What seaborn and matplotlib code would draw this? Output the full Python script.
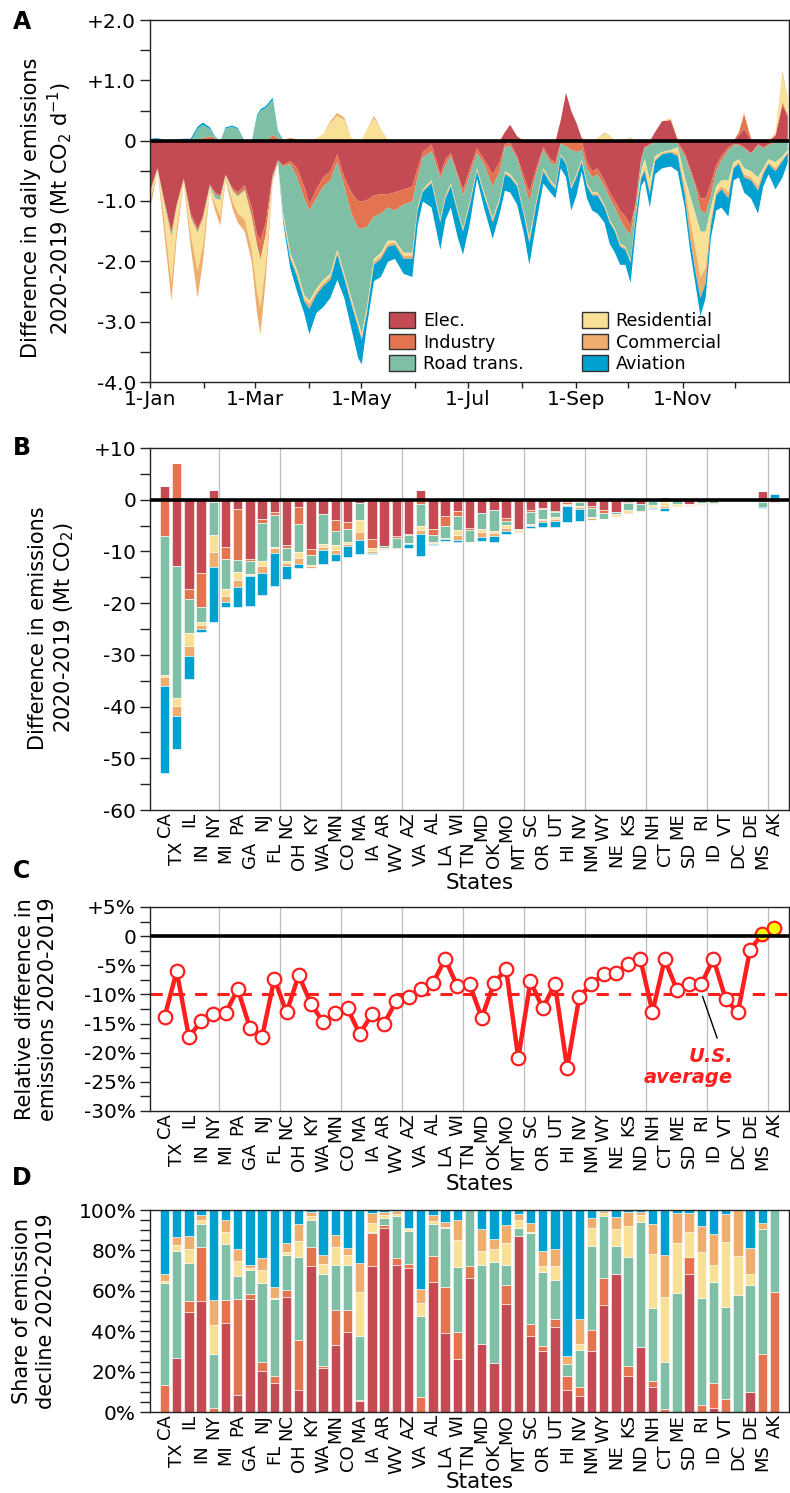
import numpy as np
import matplotlib
matplotlib.use("Agg")
import matplotlib.pyplot as plt
import seaborn as sns
from matplotlib.patches import Patch
from matplotlib.ticker import MultipleLocator

sns.set_theme(style="white")
plt.rcParams['font.family'] = ['DejaVu Sans']
plt.rcParams['mathtext.fontset'] = 'dejavusans'
for k in ('text.color', 'axes.labelcolor', 'xtick.color', 'ytick.color'):
    plt.rcParams[k] = 'black'

# ---------------- data ----------------
sectors = ["Elec.", "Industry", "Road trans.", "Residential", "Commercial", "Aviation"]
colors = ["#C44A54", "#E47450", "#7EBFA6", "#F8E096", "#F0AE6E", "#00A0D0"]

day_grid = [0, 4, 8, 12, 15, 19, 23, 27, 30, 34,
            37, 40, 43, 47, 50, 54, 58, 61, 63, 66,
            70, 73, 76, 80, 84, 88, 91, 95, 99, 103,
            107, 111, 115, 119, 121, 124, 128, 132, 136, 140,
            145, 150, 153, 156, 161, 166, 169, 172, 176, 179,
            183, 187, 191, 196, 200, 203, 206, 210, 214, 217,
            221, 225, 229, 232, 235, 238, 241, 244, 247, 250,
            253, 256, 260, 263, 266, 269, 272, 275, 278, 281,
            283, 286, 289, 293, 298, 302, 306, 309, 312, 315,
            318, 321, 324, 327, 331, 334, 337, 340, 344, 348,
            351, 354, 358, 362, 365]

elec_neg = [-0.80, -0.45, -1.00, -1.50, -1.05, -0.62, -1.20, -1.45, -1.25, -0.72,
            -0.85, -0.90, -0.55, -0.78, -0.85, -0.73, -1.10, -1.55, -1.65, -1.35,
            -0.55, -0.32, -0.40, -0.33, -0.45, -0.75, -1.05, -0.80, -0.60, -0.50,
            -0.22, -0.60, -0.85, -1.00, -1.00, -0.98, -0.90, -0.88, -0.88, -0.85,
            -0.80, -0.75, -0.45, -0.18, -0.06, -0.55, -0.30, -0.20, -0.55, -0.80,
            -0.45, -0.12, -0.30, -0.55, -0.35, -0.05, -0.03, -0.25, -0.60, -0.85,
            -0.45, -0.10, -0.30, -0.35, -0.02, 0.00, 0.00, 0.00, 0.00, -0.35,
            -0.50, -0.45, -0.65, -0.85, -1.00, -1.15, -1.25, -1.40, -1.00, -0.30,
            -0.10, -0.05, 0.00, 0.00, 0.00, -0.02, -0.20, -0.45, -0.70, -0.95,
            -0.95, -0.70, -0.40, -0.25, -0.10, -0.05, -0.05, -0.10, -0.20, -0.05,
            -0.10, -0.05, 0.00, 0.00, 0.00]
ind_neg = [-.03, -.01, -.03, -.05, -.03, -.02, -.05, -.05, -.03, -.02,
           -.03, -.03, -.02, -.03, -.05, -.07, -.15, -.17, -.30, -.20,
           -.05, -.01, -.02, -.05, -.15, -.20, -.10, -.15, -.15, -.15,
           -.13, -.15, -.35, -.45, -.45, -.44, -.35, -.32, -.22, -.30,
           -.25, -.25, -.15, -.09, -.11, -.07, -.10, -.05, -.05, -.10,
           -.10, -.08, -.08, -.20, -.15, -.05, -.05, -.05, -.10, -.15,
           -.07, -.05, -.05, -.05, -.03, -.08, -.15, -.18, -.15, -.10,
           -.10, -.10, -.10, -.10, -.10, -.15, -.20, -.15, -.05, -.03,
           -.02, -.02, -.02, -.01, -.01, -.03, -.05, -.05, -.05, -.20,
           -.25, -.20, -.10, -.07, -.05, -.02, -.02, -.02, -.02, -.02,
           -.02, -.02, -.02, -.02, -.01]
road_neg = [-.02, -.01, -.03, -.05, -.02, -.01, -.02, -.02, -.02, -.02,
            -.07, -.05, -.01, -.02, -.02, -.02, -.02, -.02, -.02, -.02,
            -.02, -.02, -.78, -1.47, -1.55, -1.60, -1.50, -1.50, -1.55, -1.55,
            -1.45, -1.45, -1.40, -1.55, -1.75, -1.33, -.70, -.65, -.55, -.50,
            -.80, -.85, -.50, -.53, -.48, -.68, -.50, -.45, -.55, -.55,
            -.45, -.25, -.47, -.53, -.45, -.40, -.47, -.40, -.50, -.60,
            -.48, -.30, -.30, -.35, -.17, -.27, -.60, -.37, -.15, -.25,
            -.25, -.30, -.30, -.35, -.35, -.40, -.30, -.43, -.15, -.17,
            -.18, -.58, -.23, -.17, -.14, -.05, -.35, -.40, -.45, -.35,
            -.30, -.20, -.25, -.33, -.50, -.28, -.23, -.33, -.28, -.53,
            -.33, -.23, -.33, -.23, -.14]
res_neg = [-.12, -.02, -.29, -.75, -.35, -.03, -.28, -.63, -.45, -.04,
           -.10, -.27, -.04, -.17, -.28, -.48, -.53, -.76, -.78, -.48,
           -.03, -.01, -.05, -.05, -.05, -.05, -.05, -.05, -.05, -.05,
           -.04, -.04, -.05, -.05, -.05, -.05, -.05, -.05, -.05, -.03,
           -.05, -.05, -.02, -.02, -.02, -.02, -.02, -.02, -.02, -.02,
           -.02, -.02, -.03, -.02, -.03, -.02, -.03, -.02, -.02, -.05,
           -.02, -.02, -.02, -.02, -.01, -.01, -.02, -.02, -.02, -.02,
           -.02, -.02, -.02, -.02, -.02, -.02, -.02, -.02, -.02, -.10,
           -.15, -.17, -.05, -.02, -.02, -.10, -.15, -.40, -.55, -.75,
           -.60, -.20, -.10, -.10, -.20, -.07, -.05, -.10, -.10, -.15,
           -.05, -.05, -.10, -.05, -.03]
com_neg = [-.13, -.01, -.20, -.30, -.15, -.02, -.20, -.45, -.25, -.02,
           -.10, -.15, -.03, -.12, -.15, -.20, -.20, -.35, -.45, -.25,
           -.03, -.01, -.05, -.05, -.05, -.05, -.08, -.05, -.05, -.05,
           -.04, -.04, -.05, -.05, -.05, -.05, -.05, -.05, -.05, -.04,
           -.05, -.05, -.03, -.02, -.03, -.03, -.03, -.03, -.03, -.03,
           -.03, -.03, -.02, -.05, -.02, -.03, -.02, -.03, -.03, -.05,
           -.03, -.03, -.03, -.03, -.02, -.02, -.03, -.03, -.03, -.03,
           -.03, -.03, -.03, -.03, -.03, -.03, -.03, -.02, -.03, -.02,
           -.05, -.06, -.03, -.02, -.02, -.05, -.15, -.30, -.40, -.35,
           -.25, -.10, -.05, -.05, -.10, -.03, -.03, -.05, -.05, -.07,
           -.05, -.03, -.05, -.03, -.02]
avi_neg = [0, 0, 0, 0, 0, 0, 0, 0, 0, 0,
           0, 0, 0, 0, 0, 0, 0, 0, 0, 0,
           0, 0, -.05, -.15, -.25, -.20, -.42, -.30, -.35, -.30,
           -.42, -.32, -.40, -.50, -.40, -.20, -.27, -.30, -.25, -.23,
           -.25, -.30, -.25, -.16, -.40, -.45, -.35, -.35, -.40, -.38,
           -.30, -.12, -.20, -.27, -.20, -.27, -.25, -.30, -.30, -.35,
           -.30, -.20, -.15, -.15, -.20, -.22, -.35, -.30, -.15, -.20,
           -.25, -.30, -.25, -.35, -.35, -.30, -.25, -.33, -.20, -.13,
           -.15, -.22, -.22, -.23, -.23, -.25, -.20, -.20, -.20, -.30,
           -.25, -.20, -.25, -.30, -.30, -.20, -.22, -.25, -.30, -.38,
           -.20, -.17, -.30, -.27, -.15]

elec_pos = [0] * 55 + [.15, .27, .08, 0, 0,
                       0, 0, 0, 0, .35, .80, .50, .30, .05, 0,
                       0, 0, 0, 0, 0, 0, 0, 0, 0, 0,
                       0, 0, .15, .33, .35, .02, 0, 0, 0, 0,
                       0, 0, 0, 0, 0, 0, .10, .20, .02, 0,
                       0, 0, .10, .60, .40]
ind_pos = [0, 0, 0, 0, 0, 0, 0, 0, .05, .08,
           .05, 0, .03, .04, 0, 0, 0, 0, 0, 0,
           .10, .05, .02, .05, .03] + [0] * 71 + [.05, .25, .02, 0,
                                                 0, 0, 0, .05, .04]
road_pos = [0, 0, 0, 0, 0, 0, 0, .20, .22, .12,
            .02, 0, .18, .20, .20, 0, 0, .40, .50, .55,
            .58, .10] + [0] * 83
res_pos = [0] * 27 + [.05, .12, .30,
                      .42, .35, .05, 0, .02, .20, .38, .20, .02, 0] + [0] * 30 + \
          [0, .05, .12, .10, 0, 0, .03, .07, 0, 0,
           0, 0, 0, 0, .04, .03, 0, 0, 0, 0,
           0, 0, 0, 0, 0, 0, 0, .05, 0, 0,
           0, 0, .05, .45, .30]
com_pos = [0] * 29 + [.03, .05, .04, 0, 0, 0, 0, .04] + [0] * 35 + [.02] + [0] * 30 + [.05, 0]
avi_pos = [.04, .05, .02, .02, .03, .04, .04, .04, .04, .03,
           .01, 0, .02, .02, .02, 0, 0, .03, .03, .03,
           .04, .02] + [0] * 83

states = ["CA", "TX", "IL", "IN", "NY", "MI", "PA", "GA", "NJ", "FL", "NC", "OH", "KY",
          "WA", "MN", "CO", "MA", "IA", "AR", "WV", "AZ", "VA", "AL", "LA", "WI", "TN",
          "MD", "OK", "MO", "MT", "SC", "OR", "UT", "HI", "NV", "NM", "WY", "NE", "KS",
          "ND", "NH", "CT", "ME", "SD", "RI", "ID", "VT", "DC", "DE", "MS", "AK"]

# panel B: difference by sector (Mt CO2)
b_elec = [2.6, -12.8, -17.3, -14.2, 1.9, -9.2, -1.7, -11.4, -3.7, -2.3, -8.8, -1.5, -9.5,
          -2.7, -4.0, -4.4, -0.55, -7.6, -8.9, -7.0, -6.7, 1.9, -5.65, -3.18, -2.1, -5.4,
          -2.65, -1.95, -3.54, -5.65, -2.04, -1.59, -2.19, -0.48, -0.32, -1.21, -2.0, -2.33, -0.48,
          -0.74, -0.23, 0.5, 0.0, -0.82, 0.0, -0.02, 0.0, 0.0, -0.03, 1.6, 0.0]
b_ind = [-7.1, 7.1, -1.9, -6.6, -0.5, -2.3, -9.9, -0.5, -0.8, -0.6, -0.5, -3.2, -1.1,
         -0.1, -2.0, -1.2, -0.05, -1.7, -0.13, -0.32, -0.19, -0.8, -1.14, -1.83, -1.1, -0.45,
         0.0, 0.6, -0.61, 0.0, -0.31, -0.15, -0.2, -0.29, -0.19, -0.41, -0.5, 0.0, -0.14,
         0.0, -0.05, -0.03, 0.0, -0.1, -0.04, -0.11, -0.02, 0.0, 0.0, -0.46, -0.4]
b_road = [-26.8, -25.5, -6.5, -2.9, -6.3, -5.8, -2.4, -2.5, -7.3, -6.3, -2.6, -5.5, -2.0,
          -5.8, -2.7, -2.5, -3.4, -0.1, -0.32, -2.0, -1.54, -4.35, -1.37, -2.35, -2.6, -2.25,
          -3.1, -4.05, -0.65, -0.27, -2.44, -1.94, -1.0, -0.27, -0.76, -1.65, -1.18, -0.46, -1.45,
          -1.43, -0.66, -0.48, -0.89, 0.0, -0.59, -0.45, -0.14, -0.17, -0.16, -0.99, -0.28]
b_res = [-0.4, -1.5, -2.5, -0.6, -3.4, -1.3, -1.5, -0.2, -1.1, -0.1, -0.4, -1.1, -0.2,
         -0.5, -1.0, -0.4, -2.3, -0.5, -0.16, -0.08, -0.09, -0.7, -0.14, -0.04, -1.1, 0.0,
         -0.55, -0.53, -0.73, -0.27, -0.04, -0.15, -0.36, 0.0, -0.13, -0.36, -0.05, -0.29, -0.42,
         -0.08, -0.48, -0.68, -0.37, -0.15, -0.25, -0.08, -0.1, -0.06, -0.02, 0.0, 0.0]
b_com = [-1.8, -2.0, -2.1, -0.7, -2.8, -1.2, -1.3, -0.2, -1.2, -1.0, -0.6, -1.1, -0.4,
         -0.6, -0.8, -0.5, -1.5, -0.5, -0.13, -0.15, -0.05, -0.7, -0.26, -0.17, -0.8, 0.0,
         -0.9, -0.4, -0.6, -0.18, -0.22, -0.39, -0.45, -0.18, -0.49, -0.2, -0.04, -0.2, -0.19,
         -0.03, -0.27, -0.43, -0.22, -0.11, -0.14, -0.14, -0.04, -0.07, -0.04, -0.05, 0.0]
b_avi = [-16.7, -6.5, -4.4, -0.6, -10.7, -1.0, -4.0, -5.7, -4.4, -6.3, -2.5, -0.8, -0.1,
         -2.7, -1.4, -2.1, -2.75, -0.17, -0.11, -0.05, -0.85, -4.25, -0.22, -0.49, -0.4, 0.0,
         -0.7, -1.16, -0.49, -0.14, -0.36, -1.09, -1.0, -3.17, -2.22, -0.16, -0.02, -0.12, -0.02,
         -0.03, -0.13, -0.47, -0.02, -0.02, -0.09, -0.11, -0.01, 0.0, -0.06, -0.1, 1.1]

# panel C: relative difference (%)
rel_diff = [-13.9, -6.0, -17.3, -14.6, -13.4, -13.2, -9.1, -15.7, -17.3, -7.3, -13.1, -6.7, -11.6,
            -14.7, -13.2, -12.4, -16.8, -13.4, -15.0, -11.1, -10.4, -9.1, -8.1, -3.9, -8.6, -8.2,
            -14.0, -8.1, -5.6, -20.9, -7.7, -12.4, -8.2, -22.6, -10.4, -8.2, -6.5, -6.3, -4.7,
            -3.9, -13.0, -4.0, -9.2, -8.2, -8.2, -3.9, -10.8, -13.1, -2.3, 0.3, 1.4]
us_average = -10.0

# panel D: share of emission decline (%)
d_elec = [0, 26.6, 49.7, 54.9, 0, 43.9, 8.5, 56.1, 20.5, 14.3, 56.9, 11.1, 72.5,
          21.6, 33.3, 39.7, 5.4, 72.5, 91.3, 73.0, 71.3, 0, 64.4, 39.3, 26.2, 66.4,
          33.6, 24.1, 53.6, 86.9, 37.7, 30.0, 42.1, 11.0, 7.7, 30.3, 53.0, 68.4, 17.7,
          32.0, 12.6, 0, 0, 68.4, 0, 2.1, 0, 0, 9.8, 0, 0]
d_ind = [13.6, 0, 5.2, 26.6, 2.1, 11.3, 47.6, 2.4, 4.4, 3.4, 3.4, 24.5, 9.0,
         1.4, 17.0, 10.8, 0.3, 16.1, 1.3, 3.3, 2.0, 7.4, 13.0, 22.6, 13.4, 5.7,
         0, 0, 9.2, 0, 5.7, 2.8, 3.8, 6.6, 4.6, 10.3, 13.1, 0, 5.2,
         0, 2.6, 1.6, 0, 8.2, 3.3, 12.3, 6.6, 0, 0, 28.7, 59.5]
d_road = [50.3, 52.9, 18.9, 11.5, 26.6, 27.9, 11.1, 11.8, 39.0, 38.4, 17.2, 41.1, 13.6,
          45.5, 22.3, 22.5, 32.0, 0.5, 3.3, 20.8, 16.4, 40.2, 15.6, 29.1, 32.1, 27.9,
          39.0, 50.2, 9.8, 4.1, 45.1, 36.5, 19.2, 6.2, 18.5, 41.4, 31.0, 13.6, 53.6,
          62.3, 36.4, 23.0, 59.0, 0, 53.3, 49.9, 45.4, 57.9, 53.0, 61.8, 40.5]
d_res = [1.1, 3.0, 7.0, 2.1, 14.4, 6.2, 7.7, 1.0, 6.3, 0.5, 1.5, 8.2, 2.0,
         4.9, 8.9, 4.6, 21.8, 4.4, 1.6, 0.8, 1.0, 6.6, 1.6, 0.5, 13.5, 0,
         6.9, 6.5, 11.0, 4.1, 0.8, 2.8, 7.0, 0, 3.1, 9.0, 1.3, 8.5, 15.7,
         3.3, 26.6, 32.5, 24.9, 12.3, 22.5, 8.7, 32.1, 19.2, 5.7, 0, 0]
d_com = [3.3, 3.9, 6.4, 2.5, 12.1, 5.8, 5.8, 1.3, 6.0, 5.4, 4.6, 8.1, 2.1,
         4.5, 5.9, 3.5, 14.3, 4.9, 1.4, 1.6, 0.3, 6.5, 2.9, 2.4, 9.9, 0,
         11.2, 4.9, 9.0, 2.8, 4.1, 7.4, 8.7, 4.1, 12.0, 4.9, 1.1, 5.9, 7.0,
         1.3, 14.8, 20.4, 14.5, 9.5, 13.0, 15.2, 13.8, 22.9, 12.6, 2.9, 0]
d_avi = [31.7, 13.6, 12.8, 2.4, 44.8, 4.9, 19.3, 27.4, 23.8, 38.0, 16.4, 7.0, 0.8,
         22.1, 12.6, 18.9, 26.2, 1.6, 1.1, 0.5, 9.0, 39.3, 2.5, 6.1, 4.9, 0,
         9.3, 14.3, 7.4, 2.1, 6.6, 20.5, 19.2, 72.1, 54.1, 4.1, 0.5, 3.6, 0.8,
         1.1, 7.0, 22.5, 1.6, 1.6, 7.9, 11.8, 2.1, 0, 18.9, 6.6, 0]

month_starts = [0, 31, 60, 91, 121, 152, 182, 213, 244, 274, 305, 335]
month_labels = ["1-Jan", "", "1-Mar", "", "1-May", "", "1-Jul", "", "1-Sep", "", "1-Nov", ""]

# ---------------- figure ----------------
W, H = 790, 1493
fig = plt.figure(figsize=(W / 100, H / 100), dpi=100)
RED = "#FF1E1E"
EDGE = "#222222"
TICK_FS = 14.5
LAB_FS = 15


def ax_at(l, t, r, b):
    return fig.add_axes([l / W, 1 - b / H, (r - l) / W, (b - t) / H])


def style(ax):
    for s in ax.spines.values():
        s.set_color(EDGE)
        s.set_linewidth(1.0)
        s.set_visible(True)
    ax.tick_params(axis='y', which='both', direction='out', length=7, width=1,
                   color=EDGE, labelcolor='black', labelsize=TICK_FS, pad=3, left=True)
    ax.set_facecolor("white")


axA = ax_at(150, 20, 789, 382)
axB = ax_at(150, 448, 789, 810)
axC = ax_at(150, 907, 789, 1111)
axD = ax_at(150, 1210, 789, 1412)
for a in (axA, axB, axC, axD):
    style(a)

# ---- Panel A ----
days = np.array(day_grid, dtype=float)
negs = [elec_neg, ind_neg, road_neg, res_neg, com_neg, avi_neg]
poss = [elec_pos, ind_pos, road_pos, res_pos, com_pos, avi_pos]
nbase = np.zeros(len(days))
pbase = np.zeros(len(days))
for neg, pos, col in zip(negs, poss, colors):
    nb = nbase + np.array(neg, dtype=float)
    axA.fill_between(days, nb, nbase, color=col, lw=0, zorder=2)
    nbase = nb
    pb = pbase + np.array(pos, dtype=float)
    axA.fill_between(days, pbase, pb, color=col, lw=0, zorder=2)
    pbase = pb
axA.axhline(0, color="black", lw=2.6, zorder=5)
axA.set_xlim(0, 366)
axA.set_ylim(-4, 2)
axA.set_yticks([-4, -3, -2, -1, 0, 1, 2])
axA.set_yticklabels(["-4.0", "-3.0", "-2.0", "-1.0", "0", "+1.0", "+2.0"])
axA.yaxis.set_minor_locator(MultipleLocator(0.5))
axA.set_xticks(month_starts)
axA.set_xticklabels(month_labels)
axA.tick_params(axis='x', which='both', direction='out', length=4.5, width=1,
                color=EDGE, labelcolor='black', labelsize=TICK_FS, pad=1, bottom=True)

handles = [Patch(facecolor=c, edgecolor="#333333", linewidth=1.0, label=s)
           for s, c in zip(sectors, colors)]
axA.legend(handles=handles, ncol=2, loc="upper left",
           bbox_to_anchor=(389 / W, 1 - 312 / H), bbox_transform=fig.transFigure,
           frameon=False, fontsize=12.6, borderpad=0, borderaxespad=0,
           handlelength=1.5, handleheight=1.0, handletextpad=0.45,
           columnspacing=3.3, labelspacing=0.2)

# ---- Panel B ----
x = np.arange(len(states))
pb_ = np.zeros(len(states))
nb_ = np.zeros(len(states))
for vals, col in zip([b_elec, b_ind, b_road, b_res, b_com, b_avi], colors):
    v = np.array(vals, dtype=float)
    p = np.clip(v, 0, None)
    q = np.clip(v, None, 0)
    axB.bar(x, p, bottom=pb_, width=0.78, color=col, edgecolor="white", linewidth=0.4, zorder=2)
    axB.bar(x, q, bottom=nb_, width=0.78, color=col, edgecolor="white", linewidth=0.4, zorder=2)
    pb_ += p
    nb_ += q
axB.axhline(0, color="black", lw=2.6, zorder=5)
axB.set_ylim(-60, 10)
axB.set_yticks(np.arange(-60, 11, 10))
axB.set_yticklabels(["-60", "-50", "-40", "-30", "-20", "-10", "0", "+10"])
axB.yaxis.set_minor_locator(MultipleLocator(5))

# ---- Panel C ----
sns.lineplot(x=x, y=rel_diff, ax=axC, color=RED, lw=3.2, zorder=3)
rel = np.array(rel_diff)
neg_m = rel <= 0
sns.scatterplot(x=x[neg_m], y=rel[neg_m], ax=axC, color="white", edgecolor=RED,
                linewidth=1.6, s=95, zorder=4)
sns.scatterplot(x=x[~neg_m], y=rel[~neg_m], ax=axC, color="#FFFF00", edgecolor=RED,
                linewidth=1.6, s=95, zorder=4)
axC.axhline(us_average, color=RED, lw=2.2, ls=(0, (4, 3.3)), zorder=2)
axC.axhline(0, color="black", lw=2.6, zorder=5)
axC.plot([44.1, 45.3], [-10.3, -17.5], color="black", lw=1.0, zorder=3)
axC.text(46.6, -20.6, "U.S.", color=RED, fontsize=14, fontweight="bold",
         style="italic", ha="right", va="center")
axC.text(46.6, -24.2, "average", color=RED, fontsize=14, fontweight="bold",
         style="italic", ha="right", va="center")
axC.set_ylim(-30, 5)
axC.set_yticks(np.arange(-30, 6, 5))
axC.set_yticklabels(["-30%", "-25%", "-20%", "-15%", "-10%", "-5%", "0", "+5%"])
axC.yaxis.set_minor_locator(MultipleLocator(2.5))
axC.set_ylabel("")
axC.set_xlabel("")

# ---- Panel D ----
bot = np.zeros(len(states))
for vals, col in zip([d_elec, d_ind, d_road, d_res, d_com, d_avi], colors):
    v = np.array(vals, dtype=float)
    axD.bar(x, v, bottom=bot, width=0.78, color=col, edgecolor="white", linewidth=0.4, zorder=2)
    bot += v
axD.set_ylim(0, 100)
axD.set_yticks(np.arange(0, 101, 20))
axD.set_yticklabels([f"{v}%" for v in range(0, 101, 20)])
axD.yaxis.set_minor_locator(MultipleLocator(5))

# shared state axes
for a in (axB, axC, axD):
    a.set_xlim(-1.19, 51.19)
    a.set_xticks(x[::2])
    a.set_xticklabels(states[::2])
    a.set_xticks(x[1::2], minor=True)
    a.set_xticklabels(states[1::2], minor=True)
    a.tick_params(axis='x', which='major', length=0, pad=1.5, labelsize=13,
                  labelrotation=90, labelcolor='black')
    a.tick_params(axis='x', which='minor', length=0, pad=23, labelsize=13,
                  labelrotation=90, labelcolor='black')
for a in (axB, axC):
    for g in np.arange(4.5, 50, 5):
        a.axvline(g, color="#BDBDBD", lw=0.9, zorder=0)

# labels
def ftext(px, py, s, **kw):
    fig.text(px / W, 1 - py / H, s, **kw)

lab_kw = dict(rotation=90, ha="center", va="center", multialignment="center",
              fontsize=LAB_FS, color="black")
ftext(47.5, 208, "Difference in daily emissions\n2020-2019 (Mt CO$_2$ d$^{-1}$)", **lab_kw)
ftext(52, 628, "Difference in emissions\n2020-2019 (Mt CO$_2$)", **lab_kw)
ftext(36.5, 1009, "Relative difference in\nemissions 2020-2019", **lab_kw)
ftext(34, 1311, "Share of emission\ndecline 2020-2019", **lab_kw)

for py in (883, 1184, 1482):
    ftext(480, py, "States", ha="center", va="center", fontsize=15.5, color="black")

for lt, py in zip("ABCD", (22, 448, 871, 1178)):
    ftext(22, py, lt, ha="center", va="center", fontsize=17, fontweight="bold", color="black")

fig.savefig("out.png", dpi=100)
